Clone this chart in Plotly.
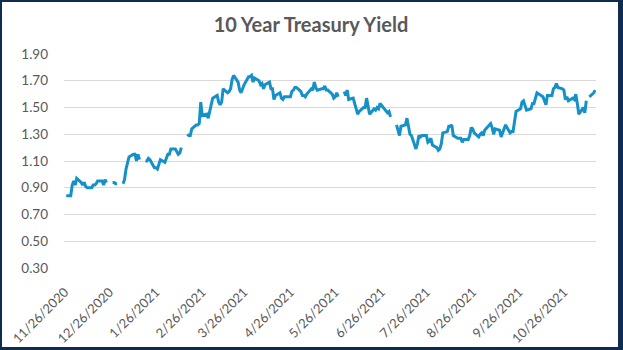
import pandas as pd
import plotly.graph_objects as go

# ---- data (10-year Treasury yield, %, one value per business day; None = market holiday gap)
nov_2020 = [None, 0.84, 0.84]
dec_2020 = [0.92, 0.95, 0.92, 0.97, 0.94, 0.92, 0.94, 0.91, 0.90, 0.90, 0.92, 0.92,
            0.93, 0.95, 0.95, 0.92, 0.96, 0.94, None, 0.94, 0.94, 0.93, 0.93]
jan_2021 = [None, 0.93, 0.96, 1.04, 1.08, 1.13, 1.15, 1.15, 1.10, 1.15, 1.11, None,
            1.10, 1.10, 1.12, 1.11, 1.05, 1.05, 1.04, 1.07, 1.11]
feb_2021 = [1.09, 1.12, 1.15, 1.15, 1.19, 1.19, 1.17, 1.15, 1.16, 1.20, None, 1.30,
            1.29, 1.29, 1.34, 1.37, 1.37, 1.38, 1.54, 1.44]
mar_2021 = [1.45, 1.42, 1.47, 1.54, 1.57, 1.59, 1.54, 1.52, 1.54, 1.64, 1.61, 1.62,
            1.64, 1.71, 1.74, 1.69, 1.63, 1.61, 1.64, 1.67, 1.73, 1.73, 1.74]
apr_2021 = [1.69, 1.72, 1.70, 1.67, 1.68, 1.64, 1.67, 1.69, 1.64, 1.64, 1.56, 1.59,
            1.61, 1.57, 1.56, 1.58, 1.58, 1.58, 1.62, 1.63, 1.65, 1.65]
may_2021 = [1.62, 1.59, 1.59, 1.58, 1.60, 1.64, 1.63, 1.69, 1.65, 1.63, 1.64, 1.64,
            1.66, 1.63, 1.63, 1.60, 1.57, 1.58, 1.61, 1.58, None]
jun_2021 = [1.62, 1.59, 1.63, 1.56, 1.57, 1.53, 1.50, 1.45, 1.47, 1.50, 1.50, 1.57,
            1.51, 1.45, 1.49, 1.48, 1.50, 1.49, 1.53, 1.49, 1.48, 1.46]
jul_2021 = [1.47, 1.43, None, 1.37, 1.32, 1.29, 1.36, 1.37, 1.42, 1.35, 1.30, 1.29,
            1.19, 1.23, 1.29, 1.28, 1.29, 1.29, 1.24, 1.25, 1.27, 1.22]
aug_2021 = [1.20, 1.18, 1.19, 1.23, 1.31, 1.32, 1.36, 1.36, 1.37, 1.29, 1.27, 1.27,
            1.27, 1.24, 1.26, 1.26, 1.29, 1.35, 1.34, 1.31, 1.28, 1.30]
sep_2021 = [1.31, 1.29, 1.33, 1.38, 1.35, 1.30, 1.34, 1.33, 1.28, 1.31, 1.34, 1.37,
            1.31, 1.32, 1.32, 1.41, 1.47, 1.49, 1.54, 1.55, 1.52]
oct_2021 = [1.48, 1.49, 1.53, 1.53, 1.57, 1.61, 1.58, 1.55, 1.52, 1.59, 1.59, 1.64,
            1.65, 1.68, 1.65, 1.64, 1.63, 1.56, 1.58, 1.55]
nov_2021 = [1.57, 1.56, 1.60, 1.53, 1.45, 1.50, 1.46, 1.55, None, 1.58, 1.61, 1.63]

start_date = "2020-11-26"
end_date = "2021-11-16"
no_row_dates = ["2021-09-06", "2021-10-11"]  # days with no row in the sheet

tick_dates = ["2020-11-26", "2020-12-26", "2021-01-26", "2021-02-26", "2021-03-26",
              "2021-04-26", "2021-05-26", "2021-06-26", "2021-07-26", "2021-08-26",
              "2021-09-26", "2021-10-26"]
tick_labels = ["11/26/2020", "12/26/2020", "1/26/2021", "2/26/2021", "3/26/2021",
               "4/26/2021", "5/26/2021", "6/26/2021", "7/26/2021", "8/26/2021",
               "9/26/2021", "10/26/2021"]
y_ticks = [0.30, 0.50, 0.70, 0.90, 1.10, 1.30, 1.50, 1.70, 1.90]

title_text = "10 Year Treasury Yield"

# ---- assemble
values = (nov_2020 + dec_2020 + jan_2021 + feb_2021 + mar_2021 + apr_2021 + may_2021
          + jun_2021 + jul_2021 + aug_2021 + sep_2021 + oct_2021 + nov_2021)
dates = pd.bdate_range(start_date, end_date)
dates = dates[~dates.isin(pd.to_datetime(no_row_dates))]
assert len(dates) == len(values), (len(dates), len(values))

W, H = 623, 350
L, R, T, B = 64, 27, 54, 82
pw, ph = W - L - R, H - T - B

fig = go.Figure()
fig.add_trace(go.Scatter(
    x=dates, y=values, mode="lines", connectgaps=False,
    line=dict(color="#1591c8", width=3), hoverinfo="x+y",
))

font_family = "Lato, 'Open Sans', sans-serif"
grey = "#595959"

fig.update_layout(
    width=W, height=H, autosize=False,
    margin=dict(l=L, r=R, t=T, b=B, pad=0, autoexpand=False),
    paper_bgcolor="white", plot_bgcolor="white",
    showlegend=False,
    font=dict(family=font_family, color=grey, size=13),
    title=dict(text="<b>" + title_text + "</b>", x=311 / W, xref="container",
               xanchor="center", y=1 - 25 / H, yref="container", yanchor="middle",
               font=dict(size=20, color=grey, family=font_family)),
)
fig.update_xaxes(
    type="date", automargin=False,
    range=["2020-11-25 12:00", "2021-11-16 12:00"],
    tickmode="array", tickvals=tick_dates, ticktext=tick_labels,
    tickangle=-45, showgrid=False, zeroline=False, showline=False,
    ticks="", ticklabelstandoff=13,
    tickfont=dict(size=13, color=grey, family=font_family),
)
fig.update_yaxes(
    automargin=False,
    range=[0.30, 1.90], tickmode="array", tickvals=y_ticks,
    ticktext=["%.2f" % v for v in y_ticks],
    showgrid=True, gridcolor="#d9d9d9", gridwidth=1,
    zeroline=False, showline=False, ticks="", ticklabelstandoff=15,
    tickfont=dict(size=13.5, color=grey, family=font_family),
)

# outer dark frame (pixel positions converted to paper coordinates)
navy = "#0f2b4f"
def px_x(p):
    return (p - L) / pw
def px_y(p):
    return (H - B - p) / ph
for x0, y0, x1, y1 in [(0, 0, 2, 350), (0, 0, 623, 2), (618, 0, 623, 350), (0, 347, 623, 350)]:
    fig.add_shape(type="rect", xref="paper", yref="paper",
                  x0=px_x(x0), x1=px_x(x1), y0=px_y(y1), y1=px_y(y0),
                  fillcolor=navy, line=dict(width=0), layer="above")

fig.write_html("out.html")
